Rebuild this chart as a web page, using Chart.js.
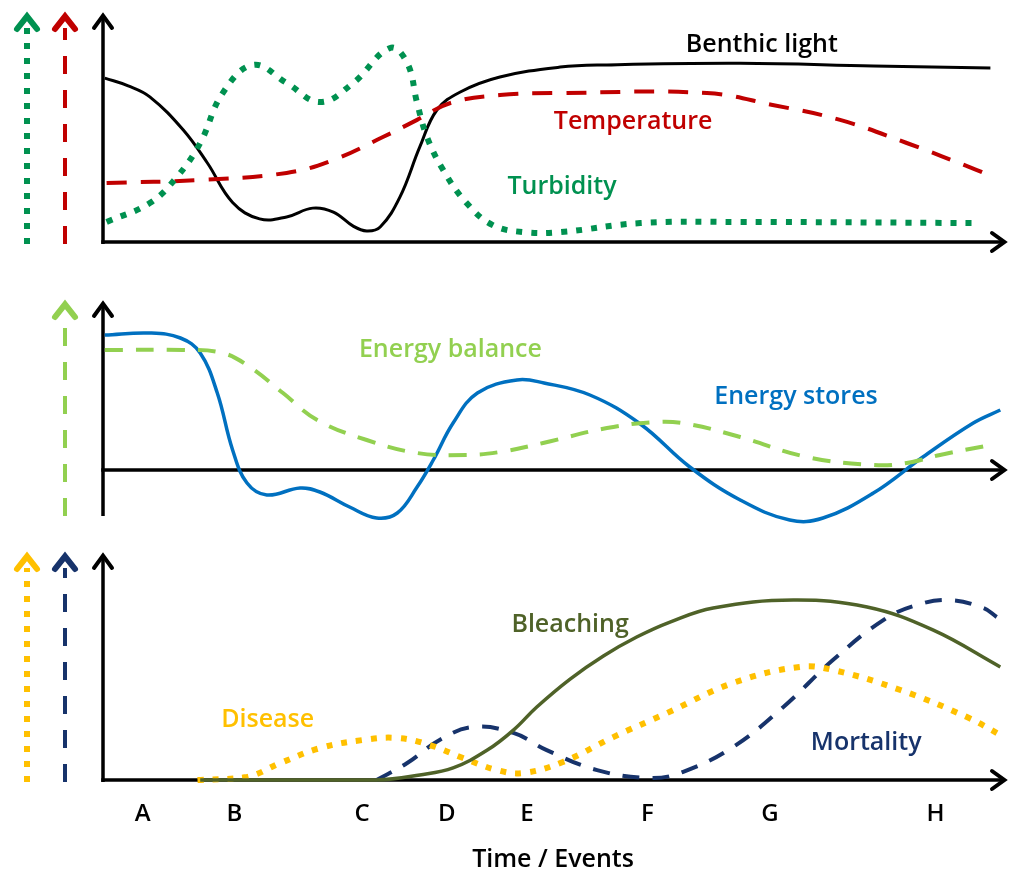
<!DOCTYPE html>
<html><head><meta charset="utf-8">
<script src="https://cdn.jsdelivr.net/npm/chart.js@4/dist/chart.umd.min.js"></script>
<style>
html,body{margin:0;padding:0;background:#fff;}
#wrap{position:relative;width:1014px;height:878px;overflow:hidden;background:#fff;}
canvas{position:absolute;left:0;}
</style></head><body>
<div id="wrap">
<canvas id="p1" width="1014" height="260" style="top:0px"></canvas>
<canvas id="p2" width="1014" height="260" style="top:280px"></canvas>
<canvas id="p3" width="1014" height="338" style="top:540px"></canvas>
</div>
<script>
// ---------- data (time on a 0–100 scale, values in arbitrary units) ----------
const eventLabels = ['A','B','C','D','E','F','G','H'];
const eventTimes  = [4.4, 14.6, 28.8, 38.2, 47.1, 60.5, 74.1, 92.5];

const benthicT = [0.2,2.8,5.2,8.9,11.6,14.4,17.4,20.4,23.3,25.6,27.8,29.3,30.8,33,35.2,37.1,39.7,44.1,50.8,56,70.8,85.6,98.6];
const benthicV = [74.5,71,66,51,35.9,18,10.5,11.4,15.4,13.6,7.2,5,6.8,20.5,43.2,60,68.2,75,79.5,80.5,81.2,80,79.1];

const tempT = [0.4,10.8,20.4,25.6,31.1,34.9,38.6,44.1,50.8,67.1,74.4,81.9,89.3,97.1,98.9];
const tempV = [26.8,28.2,31.4,37.3,47.7,55.5,63.2,66.8,67.7,67.7,62.3,55.5,45,32.7,29.5];

const turbT = [0.4,5.2,8.2,10.8,13.3,16.7,20.4,24.1,27.8,31.9,33.8,34.9,36,37.8,40.4,43.3,46.7,50.8,59.7,70.8,96.9];
const turbV = [9.1,17.7,29.5,45,67.7,80.5,72.3,63.6,72.3,88.2,81.4,63.2,47.7,32.7,17.7,7.7,4.5,4.5,8.6,9.1,8.6];

const storesT = [0.2,5.2,8.6,10.8,12.7,14.4,16,18.2,21.9,24.1,27.4,30.4,32.7,34.9,36.7,38.9,41.6,46,49,54.1,59.7,65.2,70.8,76.3,80,85.6,91.1,96.7,99.7];
const storesV = [67.5,68.5,66,58.5,38.5,10,-6.5,-12.5,-9,-11,-18.5,-24,-21.5,-8.5,5,23.5,38.5,45,43.5,37.5,23,1.5,-15,-25,-24,-11.5,6.5,23.5,30];

const balanceT = [0.2,8.9,13.3,16.3,20,23.8,29.3,34.9,40.4,44.1,48.9,56,61.5,65,70.8,78.2,85.6,89.3,93,98.6];
const balanceV = [60,60,58.5,51.5,38.5,25,15,8.5,7.5,9,13.5,21,24,23,16.5,6.5,2.5,3.5,7.5,12.5];

const bleachT = [10.8,30.4,35.2,38.9,42.7,45.6,48.2,51.9,55.6,59.3,63,67.8,76.7,84.9,92.2,99.7];
const bleachV = [0,0,2.3,5.5,13.6,22.7,33.2,45.9,56.4,65,71.8,78.2,81.8,78.6,68.2,51.4];

const diseaseT = [10.5,16,19.7,24.1,28.9,32.7,36.3,40,43.8,46.7,51.1,56.7,62.7,70,77.4,81.1,88.6,96,99.7];
const diseaseV = [0,1.4,7.7,14.5,18.2,19.1,15.9,10,4.5,3.2,8.2,19.5,30.5,44.1,51.4,50,40.9,28.6,20.5];

const mortT = [30.4,33.8,37.4,41.1,45.6,49.3,54.9,60.8,64.4,70,75.6,81.1,86.7,90.4,94.1,97.8,99.3];
const mortV = [0,7.7,18.2,24.1,21.4,13.6,4.5,0.9,3.6,15,33.2,54.5,72.7,79.5,81.8,78.2,74.1];

// ---------- helpers ----------
const FONT = "'Open Sans', 'DejaVu Sans', sans-serif";
const pts = (t, v) => t.map((x, i) => ({x, y: v[i]}));
function series(label, t, v, color, width, dash) {
  return {label, data: pts(t, v), borderColor: color, backgroundColor: color,
    borderWidth: width, borderDash: dash || [], borderCapStyle: 'butt', borderJoinStyle: 'round',
    pointRadius: 0, fill: false, tension: 0.4, clip: false};
}
function chevronUp(ctx, x, y, hw, h, lw, color) {
  ctx.save(); ctx.setLineDash([]); ctx.strokeStyle = color; ctx.lineWidth = lw;
  ctx.lineJoin = 'miter'; ctx.lineCap = 'round';
  ctx.beginPath(); ctx.moveTo(x - hw, y + h); ctx.lineTo(x, y + lw * 0.4); ctx.lineTo(x + hw, y + h); ctx.stroke();
  ctx.restore();
}
function chevronRight(ctx, x, y, hw, h, lw, color) {
  ctx.save(); ctx.setLineDash([]); ctx.strokeStyle = color; ctx.lineWidth = lw;
  ctx.lineJoin = 'miter'; ctx.lineCap = 'round';
  ctx.beginPath(); ctx.moveTo(x - h, y - hw); ctx.lineTo(x - lw * 0.4, y); ctx.lineTo(x - h, y + hw); ctx.stroke();
  ctx.restore();
}
const axesPlugin = {
  id: 'axesArrows',
  beforeDatasetsDraw(chart, args, o) {
    const ctx = chart.ctx;
    const x0 = chart.scales.x.getPixelForValue(0);
    const y0 = chart.scales.y.getPixelForValue(0);
    ctx.save();
    (o.indicators || []).forEach(ind => {
      ctx.save();
      ctx.strokeStyle = ind.color; ctx.lineWidth = ind.width; ctx.lineCap = 'butt';
      ctx.setLineDash(ind.dash);
      ctx.beginPath(); ctx.moveTo(ind.x, o.yBottom); ctx.lineTo(ind.x, o.yTop + 14); ctx.stroke();
      ctx.restore();
      chevronUp(ctx, ind.x, o.yTop, 10, 15, 6, ind.color);
    });
    ctx.strokeStyle = '#000'; ctx.lineWidth = 3.5; ctx.setLineDash([]); ctx.lineCap = 'butt';
    ctx.beginPath(); ctx.moveTo(x0, o.yBottom); ctx.lineTo(x0, o.yTop + 2); ctx.stroke();
    chevronUp(ctx, x0, o.yTop, 9, 14, 4, '#000');
    ctx.beginPath(); ctx.moveTo(x0 - 1.75, y0); ctx.lineTo(o.xEnd - 2, y0); ctx.stroke();
    chevronRight(ctx, o.xEnd, y0, 9, 14, 4, '#000');
    ctx.restore();
  },
  afterDatasetsDraw(chart, args, o) {
    const ctx = chart.ctx;
    const xs = chart.scales.x, ys = chart.scales.y;
    ctx.save();
    ctx.font = '600 25px ' + FONT; ctx.textAlign = 'center'; ctx.textBaseline = 'middle';
    (o.texts || []).forEach(t => {
      ctx.fillStyle = t.color;
      ctx.fillText(t.text, xs.getPixelForValue(t.x), ys.getPixelForValue(t.y));
    });
    ctx.restore();
  }
};

function makeChart(id, datasets, yMin, yMax, padTop, padBottom, axOpts, showX) {
  const xScale = {type: 'linear', min: 0, max: 100, display: false};
  if (showX) {
    Object.assign(xScale, {
      display: true,
      grid: {display: false, drawTicks: false},
      border: {display: false},
      afterBuildTicks: s => { s.ticks = eventTimes.map(v => ({value: v})); },
      afterFit: s => { s.height = 98; },
      ticks: {autoSkip: false, maxRotation: 0, padding: 20, color: '#000',
        font: {family: FONT, size: 24, weight: '600'},
        callback: (v, i) => eventLabels[i]},
      title: {display: true, text: 'Time / Events', color: '#000',
        font: {family: FONT, size: 25, weight: '600'}, padding: {top: 0, bottom: 3}}
    });
  }
  return new Chart(document.getElementById(id), {
    type: 'line',
    data: {datasets},
    options: {
      responsive: false, animation: false, events: [],
      layout: {padding: {left: 103, right: 11, top: padTop, bottom: padBottom}},
      scales: {x: xScale, y: {type: 'linear', min: yMin, max: yMax, display: false}},
      plugins: {legend: {display: false}, tooltip: {enabled: false}, axesArrows: axOpts}
    },
    plugins: [axesPlugin]
  });
}

const C = {black:'#000000', red:'#c00000', green:'#009150', lgreen:'#92d050', blue:'#0070c0',
           olive:'#4f6228', yellow:'#ffc000', navy:'#17336b'};

makeChart('p1', [
  series('Turbidity', turbT, turbV, C.green, 6, [6, 9]),
  series('Temperature', tempT, tempV, C.red, 4, [20, 14]),
  series('Benthic light', benthicT, benthicV, C.black, 3)
], 0, 100, 22, 18, {
  yTop: 14, yBottom: 244, xEnd: 1006,
  indicators: [{x: 27, color: C.green, width: 6, dash: [6, 9]}, {x: 65, color: C.red, width: 4, dash: [18, 16]}],
  texts: [{text: 'Benthic light', color: C.black, x: 73.2, y: 89.5},
          {text: 'Temperature', color: C.red, x: 58.9, y: 54.5},
          {text: 'Turbidity', color: C.green, x: 51, y: 25}]
}, false);

makeChart('p2', [
  series('Energy balance', balanceT, balanceV, C.lgreen, 4, [18, 13]),
  series('Energy stores', storesT, storesV, C.blue, 3.5)
], -30, 85, 20, 10, {
  yTop: 22, yBottom: 236, xEnd: 1006,
  indicators: [{x: 65, color: C.lgreen, width: 4, dash: [18, 16]}],
  texts: [{text: 'Energy balance', color: C.lgreen, x: 38.6, y: 60},
          {text: 'Energy stores', color: C.blue, x: 77, y: 36.5}]
}, false);

makeChart('p3', [
  series('Bleaching', bleachT, bleachV, C.olive, 3.5),
  series('Disease', diseaseT, diseaseV, C.yellow, 6, [6, 9]),
  series('Mortality', mortT, mortV, C.navy, 4, [17, 13])
], 0, 100, 20, 0, {
  yTop: 14, yBottom: 242, xEnd: 1006,
  indicators: [{x: 27, color: C.yellow, width: 6, dash: [6, 9]}, {x: 65, color: C.navy, width: 4, dash: [18, 16]}],
  texts: [{text: 'Bleaching', color: C.olive, x: 51.9, y: 70.5},
          {text: 'Disease', color: C.yellow, x: 18.3, y: 27.3},
          {text: 'Mortality', color: C.navy, x: 84.8, y: 16.8}]
}, true);
</script>
</body></html>
